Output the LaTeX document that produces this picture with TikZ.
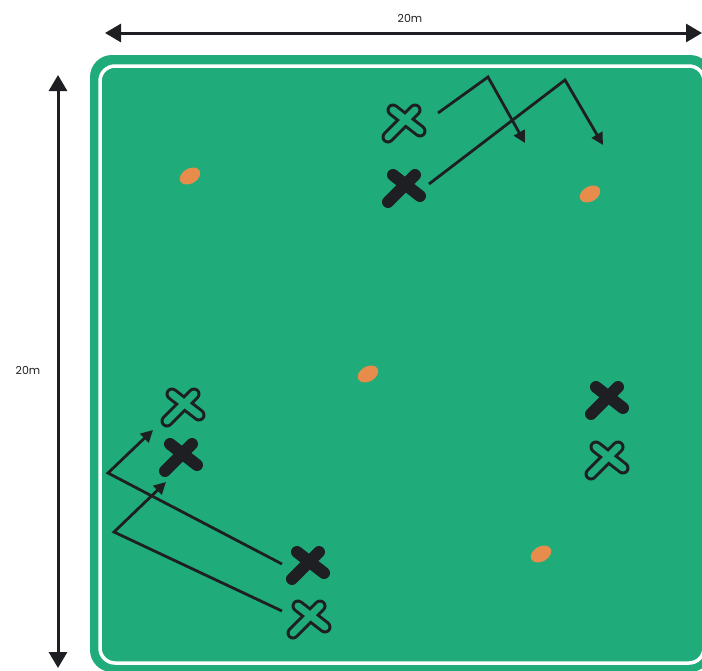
\documentclass[tikz,border=0pt]{standalone}
\usepackage{fontspec}
\setmainfont{Poppins}
\usetikzlibrary{arrows.meta,shapes.geometric}
\definecolor{pitchgreen}{HTML}{1FAC7A}
\definecolor{inkdark}{HTML}{1E1F22}
\definecolor{ballorange}{HTML}{E88C4C}
\tikzset{
  dimline/.style={inkdark, line width=3pt, {Triangle[length=16pt,width=18pt]}-{Triangle[length=16pt,width=18pt]}},
  runline/.style={inkdark, line width=2.8pt, line join=miter, -{Triangle[length=12pt,width=12pt]}},
  ball/.style={ellipse, fill=ballorange, minimum width=22pt, minimum height=15pt, inner sep=0pt, rotate=30},
  dimlabel/.style={font=\fontsize{11}{13}\selectfont, text=inkdark},
  pics/solidx/.style={code={
    \draw[inkdark, line width=12pt, line cap=round] (-10,-11) -- (17,10) (12,-11) -- (-15,16);
  }},
  pics/openx/.style={code={
    \draw[inkdark, line width=13pt, line cap=round] (-10,-11) -- (17,10) (12,-11) -- (-15,16);
    \draw[pitchgreen, line width=7pt, line cap=round] (-10,-11) -- (17,10) (12,-11) -- (-15,16);
  }}
}
\begin{document}
\begin{tikzpicture}[x=1pt, y=-1pt]
    \useasboundingbox (0,0) rectangle (702,670);
    \clip (0,0) rectangle (702,670);

    % Pitch
    \fill[pitchgreen, rounded corners=22pt] (90,55) rectangle (712,672);
    \draw[white, line width=3.5pt, rounded corners=15pt] (100,66) rectangle (704,663);

    % Dimensions
    \coordinate (dimW1) at (105,33);
    \coordinate (dimW2) at (702,33);
    \coordinate (dimH1) at (58,75);
    \coordinate (dimH2) at (58,668);
    \draw[dimline] (dimW1) -- (dimW2);
    \draw[dimline] (dimH1) -- (dimH2);
    \node[dimlabel] (labW) at (410,18) {20m};
    \node[dimlabel] (labH) at (28,370) {20m};

    % Balls
    \node[ball] (ball1) at (190,176) {};
    \node[ball] (ball2) at (590,194) {};
    \node[ball] (ball3) at (368,374) {};
    \node[ball] (ball4) at (541,554) {};

    % Players
    \coordinate (openT) at (403,121);
    \coordinate (solidT) at (403,186);
    \coordinate (openL) at (182,405);
    \coordinate (solidL) at (180,455);
    \coordinate (solidB) at (307,563);
    \coordinate (openB) at (308,617);
    \coordinate (solidR) at (606,398);
    \coordinate (openR) at (606,458);
    \pic at (openT) {openx};
    \pic at (solidT) {solidx};
    \pic at (openL) {openx};
    \pic at (solidL) {solidx};
    \pic at (solidB) {solidx};
    \pic at (openB) {openx};
    \pic at (solidR) {solidx};
    \pic at (openR) {openx};

    % Runs
    \coordinate (runT1s) at (438,113);
    \coordinate (runT1c) at (488,77);
    \coordinate (runT1e) at (525,143);
    \coordinate (runT2s) at (429,184);
    \coordinate (runT2c) at (565,80);
    \coordinate (runT2e) at (603,145);
    \coordinate (runB1s) at (282,564);
    \coordinate (runB1c) at (108,473);
    \coordinate (runB1e) at (153,430);
    \coordinate (runB2s) at (282,611);
    \coordinate (runB2c) at (114,532);
    \coordinate (runB2e) at (166,482);
    \draw[runline] (runT1s) -- (runT1c) -- (runT1e);
    \draw[runline] (runT2s) -- (runT2c) -- (runT2e);
    \draw[runline] (runB1s) -- (runB1c) -- (runB1e);
    \draw[runline] (runB2s) -- (runB2c) -- (runB2e);
\end{tikzpicture}
\end{document}
